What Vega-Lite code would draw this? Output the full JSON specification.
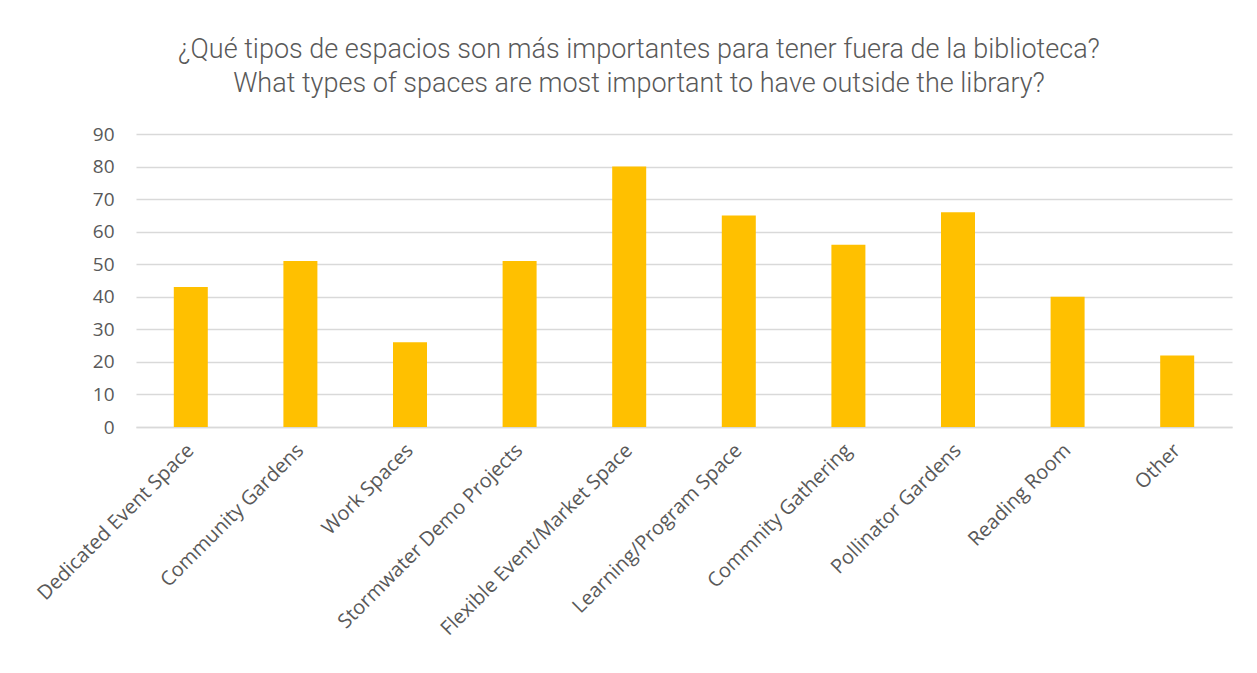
{
  "$schema": "https://vega.github.io/schema/vega-lite/v6.json",
  "width": 1096,
  "height": 293,
  "autosize": {"type": "none"},
  "padding": {"left": 136, "top": 134, "right": 25, "bottom": 246},
  "background": "white",
  "title": {
    "text": ["¿Qué tipos de espacios son más importantes para tener fuera de la biblioteca?", "What types of spaces are most important to have outside the library?"],
    "font": "Roboto",
    "fontWeight": 300,
    "fontSize": 27,
    "color": "#595959",
    "anchor": "middle",
    "dx": -45,
    "offset": 27,
    "lineHeight": 34
  },
  "data": {
    "values": [
      {"category": "Dedicated Event Space", "value": 43},
      {"category": "Community Gardens", "value": 51},
      {"category": "Work Spaces", "value": 26},
      {"category": "Stormwater Demo Projects", "value": 51},
      {"category": "Flexible Event/Market Space", "value": 80},
      {"category": "Learning/Program Space", "value": 65},
      {"category": "Commnity Gathering", "value": 56},
      {"category": "Pollinator Gardens", "value": 66},
      {"category": "Reading Room", "value": 40},
      {"category": "Other", "value": 22}
    ]
  },
  "config": {
    "view": {"stroke": null},
    "axis": {"labelFont": "Open Sans", "labelColor": "#595959", "labelFontSize": 19}
  },
  "mark": {"type": "bar", "color": "#FFC000", "width": 34},
  "encoding": {
    "x": {
      "field": "category",
      "type": "nominal",
      "sort": null,
      "title": null,
      "scale": {"paddingInner": 0, "paddingOuter": 0},
      "axis": {
        "labelAngle": -45,
        "labelAlign": "right",
        "labelBaseline": "middle",
        "labelPadding": 20,
        "labelFontSize": 20,
        "ticks": false,
        "domainColor": "#d9d9d9",
        "domainWidth": 1.5,
        "labelLimit": 400
      }
    },
    "y": {
      "field": "value",
      "type": "quantitative",
      "title": null,
      "scale": {"domain": [0, 90]},
      "axis": {
        "values": [0, 10, 20, 30, 40, 50, 60, 70, 80, 90],
        "domain": false,
        "ticks": false,
        "labelPadding": 22,
        "gridColor": "#d9d9d9",
        "gridWidth": 1.5
      }
    }
  }
}
